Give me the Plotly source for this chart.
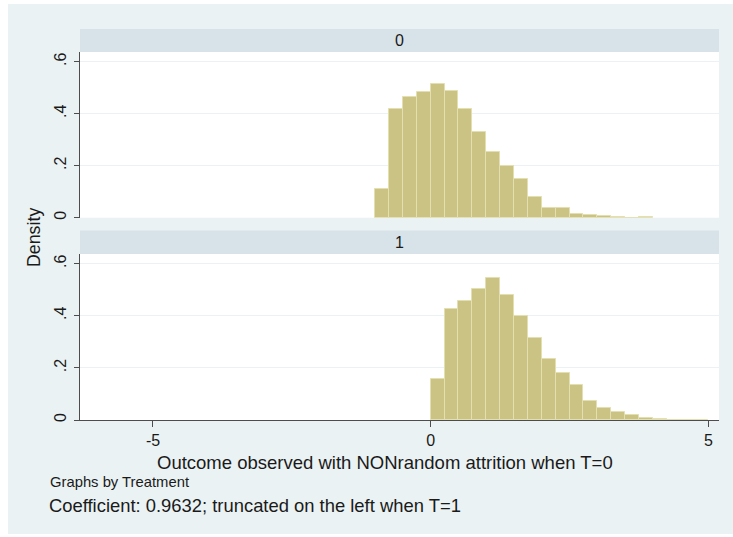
import plotly.graph_objects as go

# Histogram densities (bin width 0.25) of the outcome, by treatment group
bin_width = 0.25
t0_start = -1.0
t0_density = [0.110, 0.418, 0.465, 0.485, 0.513, 0.488, 0.419, 0.329, 0.251, 0.199,
              0.149, 0.079, 0.037, 0.036, 0.013, 0.010, 0.005, 0.004, 0.000, 0.004]
t1_start = 0.0
t1_density = [0.156, 0.427, 0.458, 0.501, 0.545, 0.479, 0.399, 0.314, 0.236, 0.181,
              0.136, 0.073, 0.045, 0.031, 0.018, 0.009, 0.004, 0.001, 0.001, 0.001]

x_ticks = [-5, 0, 5]
x_ticktext = ["-5", "0", "5"]
y_ticks = [0, 0.2, 0.4, 0.6]
y_ticktext = ["0", ".2", ".4", ".6"]
panel_labels = ["0", "1"]

x_title = "Outcome observed with NONrandom attrition when T=0"
y_title = "Density"
by_note = "Graphs by Treatment"
caption = "Coefficient: 0.9632; truncated on the left when T=1"

W, H = 733, 537
ML, MR, MT, MB = 80, 14, 29, 117
PW, PH = W - ML - MR, H - MT - MB


def px(x):
    return (x - ML) / PW


def py(y):
    return (H - MB - y) / PH


BG = "#eaf2f3"
STRIP = "#d7e3e8"
BAR = "#cac383"
BAR_LINE = "#e3dfb0"
AXIS = "#4d4d4d"
TEXT = "#1a1a1a"
FONT = "Liberation Sans, Arial, sans-serif"


def centers(start, n):
    return [start + bin_width * (i + 0.5) for i in range(n)]


fig = go.Figure()
fig.add_trace(go.Bar(x=centers(t0_start, len(t0_density)), y=t0_density, width=bin_width,
                     marker=dict(color=BAR, line=dict(color=BAR_LINE, width=1)),
                     xaxis="x", yaxis="y", showlegend=False))
fig.add_trace(go.Bar(x=centers(t1_start, len(t1_density)), y=t1_density, width=bin_width,
                     marker=dict(color=BAR, line=dict(color=BAR_LINE, width=1)),
                     xaxis="x2", yaxis="y2", showlegend=False))

top_dom = [py(217.7), py(52)]
bot_dom = [py(420), py(254)]
x_range = [-6.314, 5.19]
y_range = [0, 0.637]

yaxis_common = dict(range=y_range, tickvals=y_ticks, ticktext=y_ticktext, tickangle=-90,
                    showline=True, linecolor=AXIS, linewidth=1, ticks="outside",
                    ticklen=5, tickcolor=AXIS, tickwidth=1, showgrid=True,
                    gridcolor=BG, gridwidth=1, zeroline=False, ticklabelstandoff=2,
                    tickfont=dict(family=FONT, size=16, color=TEXT))

fig.update_layout(
    width=W, height=H,
    margin=dict(l=ML, r=MR, t=MT, b=MB),
    paper_bgcolor="white",
    plot_bgcolor="rgba(0,0,0,0)",
    bargap=0,
    xaxis=dict(domain=[0, 1], range=x_range, anchor="y", showticklabels=False,
               showline=False, ticks="", showgrid=False, zeroline=False),
    yaxis=dict(domain=top_dom, anchor="x", **yaxis_common),
    xaxis2=dict(domain=[0, 1], range=x_range, anchor="y2", tickvals=x_ticks,
                ticktext=x_ticktext,
                showline=True, linecolor=AXIS, linewidth=1, ticks="outside",
                ticklen=6, tickcolor=AXIS, showgrid=False, zeroline=False,
                tickfont=dict(family=FONT, size=16, color=TEXT)),
    yaxis2=dict(domain=bot_dom, anchor="x2", **yaxis_common),
)

shapes = [
    # graph region background
    dict(type="rect", xref="paper", yref="paper", x0=px(8), x1=px(733), y0=py(534), y1=py(4),
         fillcolor=BG, line=dict(width=0), layer="below"),
    # panel strips
    dict(type="rect", xref="paper", yref="paper", x0=0, x1=1, y0=top_dom[1], y1=py(29),
         fillcolor=STRIP, line=dict(width=0), layer="below"),
    dict(type="rect", xref="paper", yref="paper", x0=0, x1=1, y0=bot_dom[1], y1=py(230.5),
         fillcolor=STRIP, line=dict(width=0), layer="below"),
    # plot regions
    dict(type="rect", xref="paper", yref="paper", x0=0, x1=1, y0=top_dom[0], y1=top_dom[1],
         fillcolor="white", line=dict(width=0), layer="below"),
    dict(type="rect", xref="paper", yref="paper", x0=0, x1=1, y0=bot_dom[0], y1=bot_dom[1],
         fillcolor="white", line=dict(width=0), layer="below"),
]
fig.update_layout(shapes=shapes)

annotations = [
    dict(text=panel_labels[0], x=0.5, y=(top_dom[1] + py(29)) / 2, xref="paper", yref="paper",
         showarrow=False, xanchor="center", yanchor="middle",
         font=dict(family=FONT, size=16, color=TEXT)),
    dict(text=panel_labels[1], x=0.5, y=(bot_dom[1] + py(230.5)) / 2, xref="paper", yref="paper",
         showarrow=False, xanchor="center", yanchor="middle",
         font=dict(family=FONT, size=16, color=TEXT)),
    dict(text=y_title, x=px(34), y=py(238), xref="paper", yref="paper", textangle=-90,
         showarrow=False, xanchor="center", yanchor="middle",
         font=dict(family=FONT, size=17.8, color=TEXT)),
    dict(text=x_title, x=px(385), y=py(462), xref="paper", yref="paper",
         showarrow=False, xanchor="center", yanchor="middle",
         font=dict(family=FONT, size=18.5, color=TEXT)),
    dict(text=by_note, x=px(48), y=py(482), xref="paper", yref="paper",
         showarrow=False, xanchor="left", yanchor="middle",
         font=dict(family=FONT, size=14.8, color=TEXT)),
    dict(text=caption, x=px(47), y=py(505), xref="paper", yref="paper",
         showarrow=False, xanchor="left", yanchor="middle",
         font=dict(family=FONT, size=18.4, color=TEXT)),
]
fig.update_layout(annotations=annotations)

fig.write_html("out.html")
